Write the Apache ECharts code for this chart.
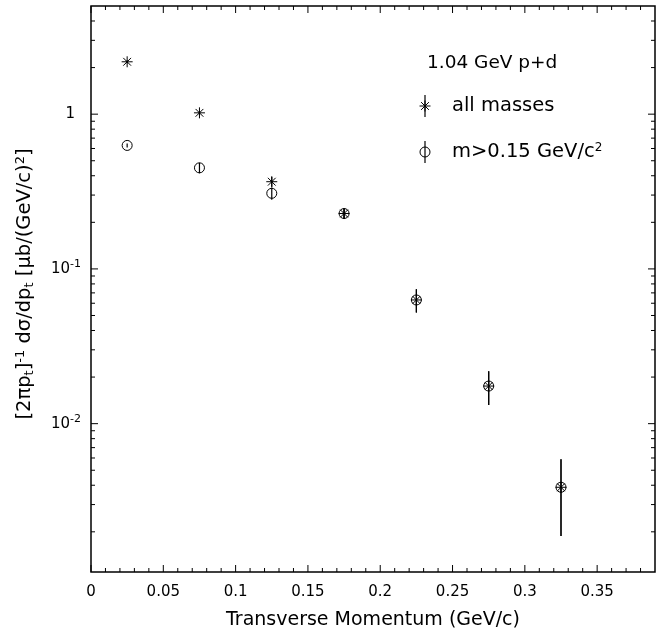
<!DOCTYPE html>
<html>
<head>
<meta charset="utf-8">
<script src="https://cdn.jsdelivr.net/npm/echarts@6/dist/echarts.min.js"></script>
<style>
  html, body { margin: 0; padding: 0; background: #fff; }
  #chart { width: 660px; height: 632px; }
</style>
</head>
<body>
<div id="chart"></div>
<script>
// transverse momentum bin centres (GeV/c)
const pt = [0.025, 0.075, 0.125, 0.175, 0.225, 0.275, 0.325];
// all masses
const allY = [2.18, 1.02, 0.366, 0.228, 0.063, 0.0175, 0.00388];
const allErr = [0.05, 0.03, 0.027, 0.017, 0.0108, 0.0043, 0.002];
// m > 0.15 GeV/c^2
const heavyY = [0.628, 0.45, 0.308, 0.228, 0.063, 0.0175, 0.00388];
const heavyErr = [0.018, 0.035, 0.028, 0.017, 0.0108, 0.0043, 0.002];

// tick values
const xMajor = [0, 0.05, 0.1, 0.15, 0.2, 0.25, 0.3, 0.35];
const xMinor = [0.01, 0.02, 0.03, 0.04, 0.06, 0.07, 0.08, 0.09, 0.11, 0.12, 0.13, 0.14,
  0.16, 0.17, 0.18, 0.19, 0.21, 0.22, 0.23, 0.24, 0.26, 0.27, 0.28, 0.29,
  0.31, 0.32, 0.33, 0.34, 0.36, 0.37, 0.38];
const yMajor = [0.01, 0.1, 1];
const yMinor = [0.002, 0.003, 0.004, 0.005, 0.006, 0.007, 0.008, 0.009,
  0.02, 0.03, 0.04, 0.05, 0.06, 0.07, 0.08, 0.09,
  0.2, 0.3, 0.4, 0.5, 0.6, 0.7, 0.8, 0.9, 2, 3, 4];

const X_MIN = 0, X_MAX = 0.39;
const Y_MIN = 0.0011, Y_MAX = 5;
const FONT = 'DejaVu Sans';

function xTickSeries(values, len) {
  return {
    type: 'custom', silent: true, clip: false,
    data: values.map(v => [v, Y_MIN]),
    renderItem: function (params, api) {
      const v = api.value(0);
      const b = api.coord([v, Y_MIN]);
      const t = api.coord([v, Y_MAX]);
      const st = { stroke: '#000', lineWidth: 1 };
      return {
        type: 'group', children: [
          { type: 'line', shape: { x1: b[0], y1: b[1], x2: b[0], y2: b[1] - len }, style: st },
          { type: 'line', shape: { x1: t[0], y1: t[1], x2: t[0], y2: t[1] + len }, style: st }
        ]
      };
    }
  };
}

function yTickSeries(values, len) {
  return {
    type: 'custom', silent: true, clip: false,
    data: values.map(v => [X_MIN, v]),
    renderItem: function (params, api) {
      const v = api.value(1);
      const l = api.coord([X_MIN, v]);
      const r = api.coord([X_MAX, v]);
      const st = { stroke: '#000', lineWidth: 1 };
      return {
        type: 'group', children: [
          { type: 'line', shape: { x1: l[0], y1: l[1], x2: l[0] + len, y2: l[1] }, style: st },
          { type: 'line', shape: { x1: r[0], y1: r[1], x2: r[0] - len, y2: r[1] }, style: st }
        ]
      };
    }
  };
}

function starShape(cx, cy, r) {
  const out = [];
  for (let k = 0; k < 4; k++) {
    const a = k * Math.PI / 4;
    const rr = r + 0.5;
    out.push({
      type: 'line',
      shape: { x1: cx - rr * Math.cos(a), y1: cy - rr * Math.sin(a), x2: cx + rr * Math.cos(a), y2: cy + rr * Math.sin(a) },
      style: { stroke: '#000', lineWidth: 1 }
    });
  }
  return out;
}

function circleShape(cx, cy, r) {
  return [{ type: 'circle', shape: { cx: cx, cy: cy, r: r }, style: { fill: 'none', stroke: '#000', lineWidth: 1 } }];
}

function pointSeries(name, ys, errs, marker) {
  return {
    name: name,
    type: 'custom',
    clip: false,
    encode: { x: 0, y: 1 },
    data: pt.map((x, i) => [x, ys[i], errs[i]]),
    renderItem: function (params, api) {
      const x = api.value(0), y = api.value(1), e = api.value(2);
      const c = api.coord([x, y]);
      const top = api.coord([x, y + e]);
      const bot = api.coord([x, Math.max(y - e, Y_MIN)]);
      const kids = [{
        type: 'line',
        shape: { x1: c[0], y1: top[1], x2: c[0], y2: bot[1] },
        style: { stroke: '#000', lineWidth: 1.2 }
      }];
      return { type: 'group', children: kids.concat(marker(c[0], c[1], 5)) };
    }
  };
}

function legendStar(x, y) {
  return {
    type: 'group', x: x, y: y,
    children: [{ type: 'line', shape: { x1: 0, y1: -11, x2: 0, y2: 11 }, style: { stroke: '#000', lineWidth: 1.2 } }]
      .concat(starShape(0, 0, 5))
  };
}

function legendCircle(x, y) {
  return {
    type: 'group', x: x, y: y,
    children: [{ type: 'line', shape: { x1: 0, y1: -11, x2: 0, y2: 11 }, style: { stroke: '#000', lineWidth: 1.2 } }]
      .concat(circleShape(0, 0, 5))
  };
}

const chart = echarts.init(document.getElementById('chart'));

chart.setOption({
  backgroundColor: '#fff',
  animation: false,
  grid: {
    left: 91,
    top: 6,
    right: 5,
    bottom: 60,
    show: true,
    borderColor: '#000',
    borderWidth: 1.5
  },
  xAxis: {
    type: 'value',
    min: X_MIN,
    max: X_MAX,
    interval: 0.05,
    axisLine: { show: false },
    axisTick: { show: false },
    splitLine: { show: false },
    axisLabel: {
      margin: 13,
      fontFamily: FONT,
      fontSize: 15,
      color: '#000',
      showMaxLabel: false
    }
  },
  yAxis: {
    type: 'log',
    logBase: 10,
    min: Y_MIN,
    max: Y_MAX,
    axisLine: { show: false },
    axisTick: { show: false },
    splitLine: { show: false },
    axisLabel: {
      margin: 10,
      color: '#000',
      fontFamily: FONT,
      formatter: function (v) {
        const e = Math.log10(v);
        const n = Math.round(e);
        if (Math.abs(e - n) > 1e-6) return '';
        if (n === 0) return '{one|1}';
        return '{b|10}{s|' + n + '}';
      },
      rich: {
        one: { fontSize: 15, fontFamily: FONT, color: '#000', padding: [0, 6, 0, 0] },
        b: { fontSize: 15, fontFamily: FONT, color: '#000' },
        s: { fontSize: 11, fontFamily: FONT, color: '#000', verticalAlign: 'top', padding: [0, 0, 10, 0] }
      }
    }
  },
  graphic: [
    {
      type: 'text', x: 373, y: 620,
      style: {
        text: 'Transverse Momentum (GeV/c)', font: '19px "DejaVu Sans"', fill: '#000',
        align: 'center', verticalAlign: 'middle'
      }
    },
    {
      type: 'text', x: 25, y: 284, rotation: Math.PI / 2,
      style: {
        text: '[2\u03c0p{sub|t}]{sup|-1} d\u03c3/dp{sub|t} [\u03bcb/(GeV/c){sup|2}]',
        fontFamily: FONT, fontSize: 19.5, fill: '#000',
        align: 'center', verticalAlign: 'middle',
        rich: {
          sub: { fontSize: 13, fontFamily: FONT, fill: '#000', verticalAlign: 'bottom', padding: [7, 0, 0, 0] },
          sup: { fontSize: 13, fontFamily: FONT, fill: '#000', verticalAlign: 'top', padding: [0, 0, 9, 0] }
        }
      }
    },
    {
      type: 'text', x: 427, y: 63,
      style: { text: '1.04 GeV p+d', font: '18.5px "DejaVu Sans"', fill: '#000', verticalAlign: 'middle' }
    },
    legendStar(425, 106),
    {
      type: 'text', x: 452, y: 106,
      style: { text: 'all masses', font: '19.5px "DejaVu Sans"', fill: '#000', verticalAlign: 'middle' }
    },
    legendCircle(425, 152),
    {
      type: 'text', x: 452, y: 152,
      style: {
        text: 'm>0.15 GeV/c{sup|2}', fontFamily: FONT, fontSize: 19.5, fill: '#000', verticalAlign: 'middle',
        rich: {
          sup: { fontSize: 12, fontFamily: FONT, fill: '#000', verticalAlign: 'top', padding: [0, 0, 9, 0] }
        }
      }
    }
  ],
  series: [
    xTickSeries(xMajor, 7),
    xTickSeries(xMinor, 4),
    yTickSeries(yMajor, 7),
    yTickSeries(yMinor, 4),
    pointSeries('all masses', allY, allErr, starShape),
    pointSeries('m>0.15 GeV/c2', heavyY, heavyErr, circleShape)
  ]
});
</script>
</body>
</html>
